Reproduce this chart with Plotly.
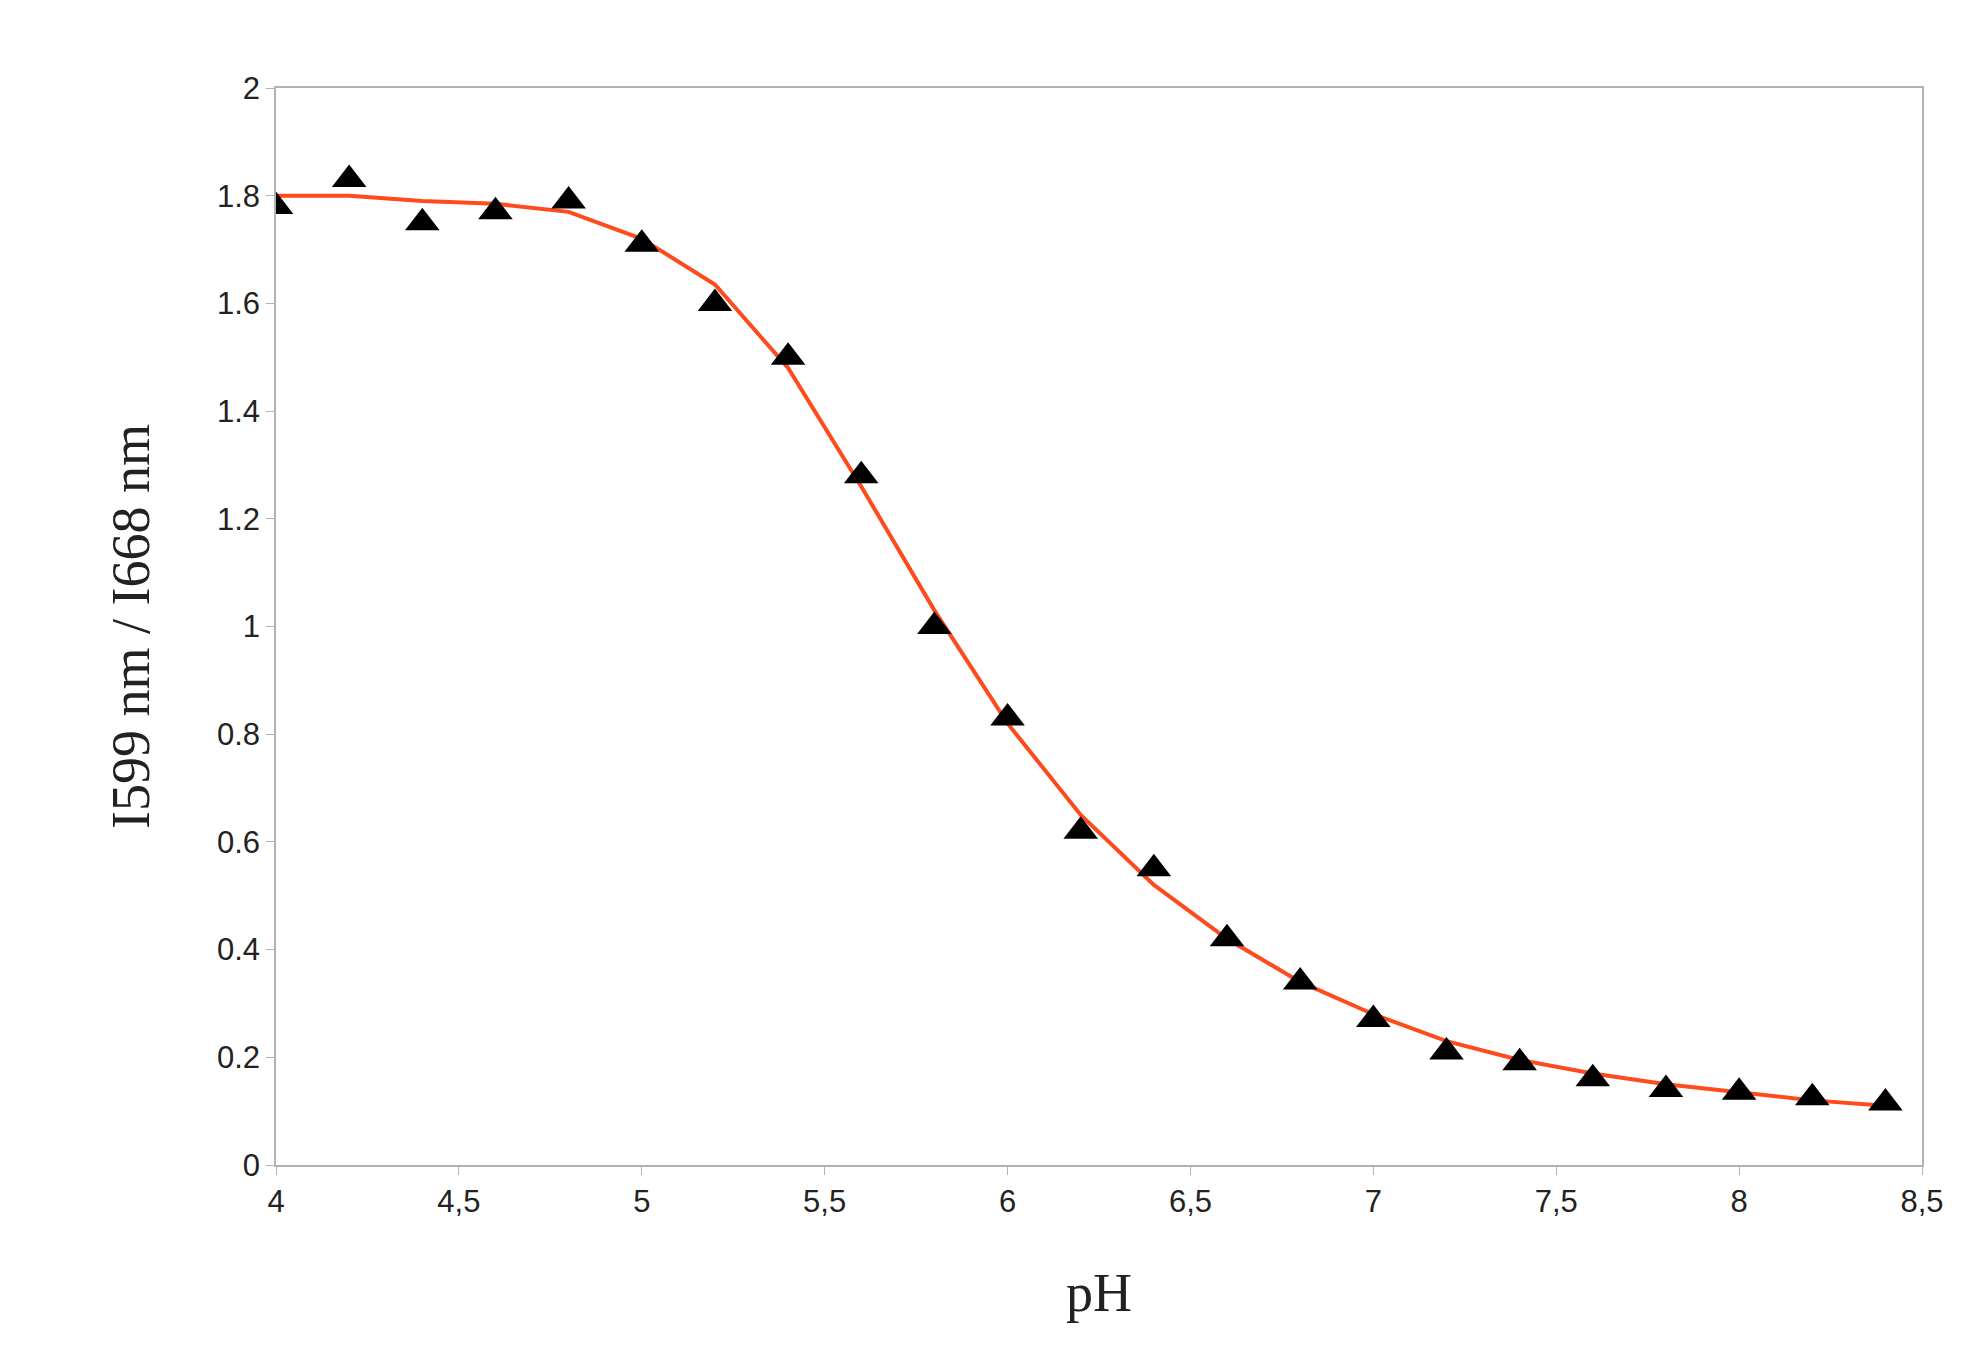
import plotly.graph_objects as go

ph = [4.0,4.2,4.4,4.6,4.8,5.0,5.2,5.4,5.6,5.8,6.0,6.2,6.4,6.6,6.8,7.0,7.2,7.4,7.6,7.8,8.0,8.2,8.4]
ratio = [1.78,1.83,1.75,1.77,1.79,1.71,1.60,1.50,1.28,1.00,0.83,0.62,0.55,0.42,0.34,0.27,0.21,0.19,0.16,0.14,0.135,0.125,0.115]
fit = [1.80,1.80,1.79,1.785,1.77,1.72,1.635,1.48,1.26,1.03,0.82,0.65,0.52,0.42,0.34,0.28,0.23,0.195,0.17,0.15,0.135,0.12,0.11]
xticks = [4,4.5,5,5.5,6,6.5,7,7.5,8,8.5]
xlabels = ["4","4,5","5","5,5","6","6,5","7","7,5","8","8,5"]
yticks = [0,0.2,0.4,0.6,0.8,1,1.2,1.4,1.6,1.8,2]
ylabels = ["0","0.2","0.4","0.6","0.8","1","1.2","1.4","1.6","1.8","2"]

fig = go.Figure()
fig.add_trace(go.Scatter(x=ph, y=fit, mode="lines", line=dict(color="#ff4a1c", width=4)))
fig.add_trace(go.Scatter(x=ph, y=ratio, mode="markers",
                         marker=dict(symbol="triangle-up", size=30, color="black")))
fig.update_layout(
    width=1980, height=1371, showlegend=False,
    plot_bgcolor="white", paper_bgcolor="white",
    margin=dict(l=268, r=66, t=80, b=214),
    font=dict(family="Liberation Sans", size=31, color="#222"),
)
axis_common = dict(showgrid=False, zeroline=False, showline=True, linecolor="#b3b3b3",
                   linewidth=1.5, mirror=True, ticks="outside", tickcolor="#b3b3b3", ticklen=8)
fig.update_xaxes(range=[4, 8.5], tickvals=xticks, ticktext=xlabels,
                 title=dict(text="pH", font=dict(family="Liberation Serif", size=54, color="#222"), standoff=55),
                 **axis_common)
fig.update_yaxes(range=[0, 2], tickvals=yticks, ticktext=ylabels,
                 title=dict(text="I599 nm / I668 nm", font=dict(family="Liberation Serif", size=54, color="#222"), standoff=50),
                 **axis_common)
fig.write_html("out.html")
